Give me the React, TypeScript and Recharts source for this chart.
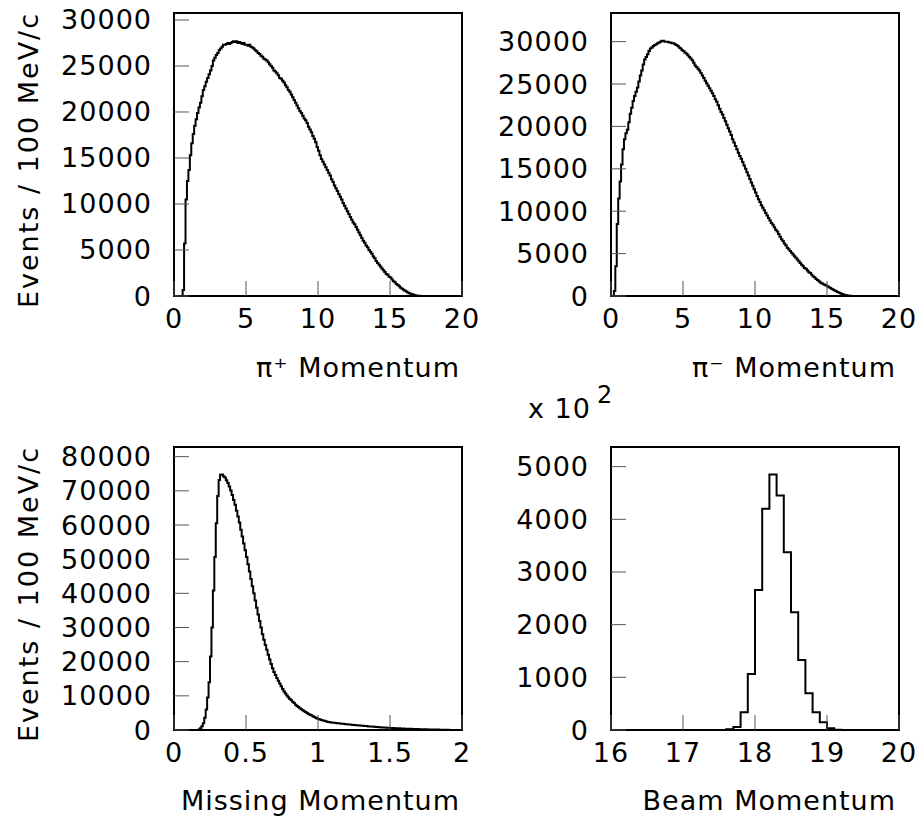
import React from "react";
import { ComposedChart, Line, XAxis, YAxis, ReferenceArea } from "recharts";

const FONT = "'DejaVu Sans', 'Liberation Sans', sans-serif";

// pi+ momentum, 0.1 GeV/c bins from 0.5
const piPlusStart = 0.5;
const piPlusCounts = [
  0, 650, 5700, 10500, 12500, 13700, 15300, 16600, 17600, 18500,
  19200, 19900, 20500, 21000, 21700, 22400, 22800, 23300, 23700, 24100,
  24500, 25000, 25600, 25900, 26200, 26400, 26700, 26900, 27100, 27300,
  27300, 27400, 27500, 27400, 27500, 27600, 27700, 27600, 27700, 27500,
  27600, 27500, 27400, 27500, 27300, 27300, 27200, 27300, 27100, 27000,
  26900, 26700, 26600, 26400, 26300, 26100, 26000, 25800, 25700, 25600,
  25400, 25200, 25000, 24800, 24500, 24400, 24200, 24000, 23700, 23600,
  23400, 23200, 22900, 22700, 22400, 22200, 21900, 21600, 21300, 21000,
  20700, 20400, 20100, 19900, 19600, 19300, 19100, 18800, 18400, 18100,
  17800, 17400, 17100, 16700, 16200, 15800, 15300, 14900, 14600, 14300,
  14000, 13700, 13400, 13100, 12700, 12400, 12000, 11700, 11400, 11100,
  10800, 10500, 10100, 9800, 9500, 9200, 8900, 8600, 8300, 8000,
  7800, 7500, 7200, 6900, 6600, 6300, 6000, 5800, 5500, 5300,
  5000, 4800, 4600, 4300, 4100, 3800, 3600, 3400, 3200, 3000,
  2800, 2600, 2400, 2300, 2100, 2000, 1800, 1600, 1500, 1300,
  1200, 1050, 900, 780, 680, 580, 480, 390, 310, 240,
  180, 130, 90, 60, 35, 15, 5, 0,
];

// pi- momentum, 0.1 GeV/c bins from 0.1
const piMinusStart = 0.1;
const piMinusCounts = [
  0, 600, 3500, 8500, 11500, 13500, 15500, 17300, 18500, 19200,
  19600, 20500, 21500, 22200, 23000, 23600, 24100, 24600, 25300, 26000,
  26600, 27300, 27900, 28200, 28500, 28900, 29200, 29300, 29500, 29600,
  29700, 29800, 29900, 30000, 30100, 30100, 30000, 30000, 30000, 29900,
  29900, 29800, 29800, 29700, 29600, 29500, 29300, 29200, 29000, 28900,
  28700, 28600, 28400, 28200, 28000, 27800, 27500, 27200, 27000, 26800,
  26600, 26300, 26000, 25700, 25400, 25100, 24800, 24500, 24200, 23900,
  23600, 23200, 22900, 22500, 22100, 21700, 21400, 21000, 20600, 20200,
  19800, 19400, 19000, 18500, 18100, 17700, 17300, 16900, 16500, 16200,
  15800, 15400, 15000, 14600, 14200, 13800, 13400, 13000, 12600, 12200,
  11800, 11400, 11100, 10700, 10400, 10100, 9800, 9500, 9200, 8900,
  8600, 8400, 8100, 7800, 7600, 7300, 7000, 6700, 6500, 6200,
  6000, 5700, 5500, 5300, 5100, 4900, 4700, 4500, 4300, 4100,
  3900, 3700, 3500, 3300, 3200, 3000, 2800, 2700, 2500, 2300,
  2200, 2000, 1900, 1750, 1600, 1500, 1400, 1330, 1240, 1150,
  1040, 940, 840, 740, 640, 550, 460, 380, 310, 240,
  180, 130, 90, 60, 40, 25, 12, 0,
];

// missing momentum, 0.01 bins from 0.16
const missingStart = 0.16;
const missingCounts = [
  0, 150, 500, 1100, 2000, 3600, 6000, 9500, 14000, 21500,
  30000, 40800, 50600, 60500, 68500, 73200, 74700, 74800, 74300, 73900,
  73100, 72300, 71300, 70100, 68800, 67300, 65900, 64200, 62500, 60700,
  58600, 56600, 54600, 52600, 50600, 48500, 46400, 44200, 42100, 40000,
  37900, 35800, 33800, 31900, 30000, 28000, 26400, 24900, 23500, 22000,
  20600, 19300, 18100, 17000, 16100, 15200, 14400, 13600, 12800, 12000,
  11300, 10700, 10100, 9600, 9100, 8700, 8300, 7900, 7400, 7000,
  6700, 6400, 6100, 5800, 5500, 5300, 5000, 4700, 4500, 4300,
  4000, 3800, 3600, 3400, 3200, 3100, 2900, 2800, 2700, 2550,
  2450, 2350, 2250, 2200, 2150, 2100, 2050, 2000, 1950, 1900,
  1850, 1800, 1750, 1700, 1660, 1620, 1580, 1540, 1500, 1460,
  1420, 1380, 1340, 1300, 1260, 1220, 1180, 1140, 1100, 1060,
  1020, 990, 950, 920, 880, 850, 820, 790, 760, 730,
  700, 680, 650, 630, 600, 580, 560, 540, 520, 500,
  480, 460, 440, 420, 400, 385, 370, 350, 335, 320,
  305, 290, 275, 260, 250, 240, 225, 210, 200, 190,
  180, 170, 160, 150, 140, 130, 120, 110, 100, 90,
  80, 70, 60, 50, 40, 30, 20, 10, 0,
];

// beam momentum (x 10^2), 0.1 bins from 17.5
const beamStart = 17.5;
const beamCounts = [
  0, 12, 55, 335, 1065, 2660, 4200, 4850, 4450, 3375,
  2235, 1330, 700, 335, 145, 32, 6, 0,
];

const momTicks = [0, 5, 10, 15, 20];
const missTicks = [0, 0.5, 1, 1.5, 2];
const beamTicks = [16, 17, 18, 19, 20];
const piPlusYTicks = [0, 5000, 10000, 15000, 20000, 25000, 30000];
const piMinusYTicks = [0, 5000, 10000, 15000, 20000, 25000, 30000];
const missYTicks = [0, 10000, 20000, 30000, 40000, 50000, 60000, 70000, 80000];
const beamYTicks = [0, 1000, 2000, 3000, 4000, 5000];

const toSteps = (start: number, width: number, counts: number[]) => {
  const pts = counts.map((n, i) => ({ x: +(start + i * width).toFixed(3), n }));
  pts.push({ x: +(start + counts.length * width).toFixed(3), n: 0 });
  return pts;
};

const textStyle = { fontFamily: FONT, fontSize: 27, fill: "#000" };

const XTick = (props: any) => {
  const { x, y, payload } = props;
  return (
    <g>
      <line x1={x} x2={x} y1={y} y2={y - 15} stroke="#555" strokeWidth={1} />
      <text x={x} y={y + 32} textAnchor="middle" letterSpacing={1} {...textStyle}>
        {payload.value}
      </text>
    </g>
  );
};

const YTick = (props: any) => {
  const { x, y, payload } = props;
  return (
    <g>
      <line x1={x} x2={x + 15} y1={y} y2={y} stroke="#555" strokeWidth={1} />
      <text x={x - 22} y={y} textAnchor="end" dominantBaseline="central" letterSpacing={1} {...textStyle}>
        {payload.value}
      </text>
    </g>
  );
};

type PanelProps = {
  left: number;
  top: number;
  width: number;
  height: number;
  margin: { top: number; right: number; bottom: number; left: number };
  data: { x: number; n: number }[];
  xDomain: [number, number];
  xTicks: number[];
  yMax: number;
  yTicks: number[];
  children?: React.ReactNode;
};

function Panel({ left, top, width, height, margin, data, xDomain, xTicks, yMax, yTicks, children }: PanelProps) {
  return (
    <div style={{ position: "absolute", left, top }}>
      <ComposedChart width={width} height={height} data={data} margin={margin}>
        <XAxis
          dataKey="x"
          type="number"
          domain={xDomain}
          ticks={xTicks}
          interval={0}
          allowDataOverflow
          axisLine={false}
          tickLine={false}
          tickSize={0}
          tickMargin={0}
          height={40}
          tick={(p: any) => <XTick {...p} />}
        />
        <YAxis
          type="number"
          domain={[0, yMax]}
          ticks={yTicks}
          interval={0}
          allowDataOverflow
          axisLine={false}
          tickLine={false}
          tickSize={0}
          tickMargin={0}
          width={60}
          tick={(p: any) => <YTick {...p} />}
        />
        <Line
          dataKey="n"
          type="stepAfter"
          stroke="#000"
          strokeWidth={2}
          dot={false}
          activeDot={false}
          isAnimationActive={false}
        />
        <ReferenceArea
          x1={xDomain[0]}
          x2={xDomain[1]}
          y1={0}
          y2={yMax}
          fill="none"
          fillOpacity={0}
          stroke="#000"
          strokeWidth={2}
        />
        {children}
      </ComposedChart>
    </div>
  );
}

const leftMargin = (top: number, bottom: number) => ({ top, right: 38, bottom, left: 114 });
const rightMargin = (top: number, bottom: number) => ({ top, right: 21, bottom, left: 121 });

const YTitle = ({ cy }: { cy: number }) => (
  <text
    x={28}
    y={cy}
    transform={`rotate(-90 28 ${cy})`}
    textAnchor="middle"
    dominantBaseline="central"
    letterSpacing={2}
    {...textStyle}
  >
    Events / 100 MeV/c
  </text>
);

const XTitle = ({ x, y, label }: { x: number; y: number; label: string }) => (
  <text x={x} y={y} textAnchor="end" letterSpacing={1} {...textStyle}>
    {label}
  </text>
);

export default function App() {
  return (
    <div style={{ position: "absolute", left: 0, top: 0, width: 920, height: 820, background: "#fff" }}>
      <Panel
        left={0}
        top={0}
        width={500}
        height={400}
        margin={leftMargin(13, 64)}
        data={toSteps(piPlusStart, 0.1, piPlusCounts)}
        xDomain={[0, 20]}
        xTicks={momTicks}
        yMax={30760}
        yTicks={piPlusYTicks}
      >
        <YTitle cy={160} />
        <XTitle x={460} y={377} label="π⁺ Momentum" />
      </Panel>
      <Panel
        left={430}
        top={0}
        width={490}
        height={400}
        margin={rightMargin(13, 64)}
        data={toSteps(piMinusStart, 0.1, piMinusCounts)}
        xDomain={[0, 20]}
        xTicks={momTicks}
        yMax={33380}
        yTicks={piMinusYTicks}
      >
        <XTitle x={466} y={377} label="π⁻ Momentum" />
      </Panel>
      <Panel
        left={0}
        top={380}
        width={500}
        height={440}
        margin={leftMargin(67, 50)}
        data={toSteps(missingStart, 0.01, missingCounts)}
        xDomain={[0, 2]}
        xTicks={missTicks}
        yMax={82830}
        yTicks={missYTicks}
      >
        <YTitle cy={214} />
        <XTitle x={460} y={430} label="Missing Momentum" />
      </Panel>
      <Panel
        left={430}
        top={380}
        width={490}
        height={440}
        margin={rightMargin(67, 50)}
        data={toSteps(beamStart, 0.1, beamCounts)}
        xDomain={[16, 20]}
        xTicks={beamTicks}
        yMax={5373}
        yTicks={beamYTicks}
      >
        <text x={98} y={38} letterSpacing={1} {...textStyle}>
          x 10
          <tspan dx={6} dy={-15} fontSize={24}>
            2
          </tspan>
        </text>
        <XTitle x={466} y={430} label="Beam Momentum" />
      </Panel>
    </div>
  );
}
